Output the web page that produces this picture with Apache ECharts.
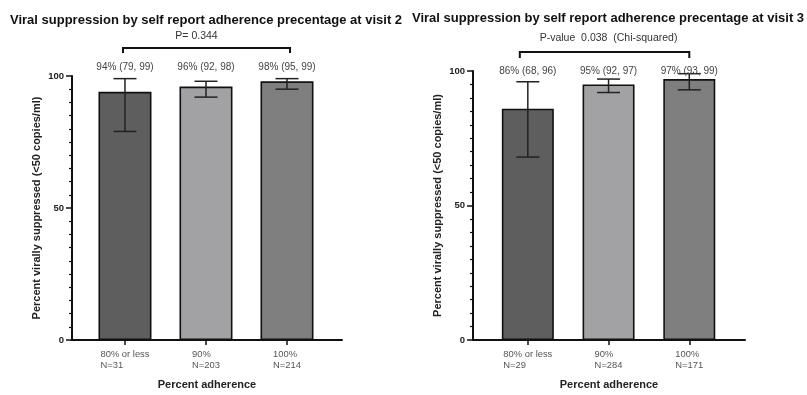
<!DOCTYPE html>
<html><head><meta charset="utf-8">
<script src="https://cdn.jsdelivr.net/npm/echarts@6/dist/echarts.min.js"></script>
<style>html,body{margin:0;padding:0;background:#fff}#c{width:807px;height:395px}</style>
</head><body><div id="c"></div>
<script>
// ---- data ----
const categories = ['80% or less', '90%', '100%'];
const v2Title = 'Viral suppression by self report adherence precentage at visit 2';
const v2N = [31, 203, 214];
const v2Pct = [94, 96, 98];
const v2Lo = [79, 92, 95];
const v2Hi = [99, 98, 99];
const v2P = 'P= 0.344';
const v3Title = 'Viral suppression by self report adherence precentage at visit 3';
const v3N = [29, 284, 171];
const v3Pct = [86, 95, 97];
const v3Lo = [68, 92, 93];
const v3Hi = [96, 97, 99];
const v3P = 'P-value  0.038  (Chi-squared)';
const yTickValues = [0, 50, 100];
const yAxisName = 'Percent virally suppressed (<50 copies/ml)';
const xAxisName = 'Percent adherence';
const barColors = ['#5e5e5e', '#a2a2a5', '#7f7f7f'];

// ---- build ----
const FONT = 'Liberation Sans, Arial, sans-serif';
const chart = echarts.init(document.getElementById('c'));
const idx = categories.map((_, i) => i);

function ciText(p, lo, hi) { return p.map((v, i) => v + '% (' + lo[i] + ', ' + hi[i] + ')'); }

function xAxisFor(gi, n, min, max) {
  return {
    type: 'value', gridIndex: gi, min: min, max: max,
    name: xAxisName, nameLocation: 'middle', nameGap: 39,
    nameTextStyle: { fontFamily: FONT, fontSize: 11, fontWeight: 'bold', color: '#222' },
    axisLine: { show: true, onZero: false, lineStyle: { color: '#111', width: 2 } },
    axisTick: { show: true, customValues: idx, length: 5, lineStyle: { color: '#111', width: 1.5 } },
    axisLabel: {
      show: true, customValues: idx, margin: 9,
      formatter: v => '{a|' + categories[v] + '}\n{a|N=' + n[v] + '}',
      rich: { a: { align: 'left', fontFamily: FONT, fontSize: 9.4, color: '#555', lineHeight: 11 } }
    },
    splitLine: { show: false }
  };
}
function yAxisFor(gi) {
  return {
    type: 'value', gridIndex: gi, min: 0, max: 100, interval: 50,
    name: yAxisName, nameLocation: 'middle', nameGap: 30,
    nameTextStyle: { fontFamily: FONT, fontSize: 11, fontWeight: 'bold', color: '#222' },
    axisLine: { show: true, onZero: false, lineStyle: { color: '#111', width: 2 } },
    axisTick: { show: true, length: 6, lineStyle: { color: '#111', width: 1.5 } },
    minorTick: { show: true, splitNumber: 10, length: 3, lineStyle: { color: '#111', width: 1.2 } },
    axisLabel: { fontFamily: FONT, fontSize: 9.5, fontWeight: 'bold', color: '#222', margin: 8,
      customValues: yTickValues },
    splitLine: { show: false }
  };
}
function barSeries(gi, pct, bw) {
  return {
    type: 'bar', xAxisIndex: gi, yAxisIndex: gi, barWidth: bw,
    data: pct.map((v, i) => ({ value: [i, v], itemStyle: { color: barColors[i] } })),
    itemStyle: { borderColor: '#111', borderWidth: 1.6 }, z: 2
  };
}
function errSeries(gi, lo, hi) {
  return {
    type: 'custom', xAxisIndex: gi, yAxisIndex: gi, z: 5, clip: false,
    data: lo.map((v, i) => [i, v, hi[i]]),
    renderItem: (params, api) => {
      const x = api.value(0);
      const a = api.coord([x, api.value(1)]), b = api.coord([x, api.value(2)]);
      const cw = 11.5, st = { stroke: '#222', lineWidth: 1.5 };
      return { type: 'group', children: [
        { type: 'line', shape: { x1: a[0], y1: a[1], x2: b[0], y2: b[1] }, style: st },
        { type: 'line', shape: { x1: a[0] - cw, y1: a[1], x2: a[0] + cw, y2: a[1] }, style: st },
        { type: 'line', shape: { x1: b[0] - cw, y1: b[1], x2: b[0] + cw, y2: b[1] }, style: st }
      ] };
    }
  };
}
function ciSeries(gi, texts, dy) {
  return {
    type: 'custom', xAxisIndex: gi, yAxisIndex: gi, z: 6, clip: false,
    data: idx.map(i => [i, 100]),
    renderItem: (params, api) => {
      const p = api.coord([api.value(0), api.value(1)]);
      return { type: 'text', x: p[0], y: p[1] + dy,
        style: { text: texts[params.dataIndex], align: 'center', verticalAlign: 'middle',
          fontFamily: FONT, fontSize: 10, fill: '#444' } };
    }
  };
}
function bracketSeries(gi, text, rise, drop, dxl, dxr, textUp, textDx) {
  return {
    type: 'custom', xAxisIndex: gi, yAxisIndex: gi, z: 6, clip: false,
    data: [[0, 2, 100]],
    renderItem: (params, api) => {
      const a = api.coord([api.value(0), api.value(2)]), b = api.coord([api.value(1), api.value(2)]);
      const yH = a[1] - rise, xl = a[0] + dxl, xr = b[0] + dxr;
      return { type: 'group', children: [
        { type: 'polyline', shape: { points: [[xl, yH + drop], [xl, yH], [xr, yH], [xr, yH + drop]] },
          style: { stroke: '#111', lineWidth: 2, fill: null } },
        { type: 'text', x: (xl + xr) / 2 + textDx, y: yH - textUp,
          style: { text: text, align: 'center', verticalAlign: 'middle', fontFamily: FONT, fontSize: 10.5, fill: '#333' } }
      ] };
    }
  };
}

const option = {
  backgroundColor: '#fff',
  animation: false,
  title: [
    { text: v2Title, left: 10, top: 14, padding: 0,
      textStyle: { fontFamily: FONT, fontSize: 13, fontWeight: 'bold', color: '#111' } },
    { text: v3Title, left: 412, top: 12, padding: 0,
      textStyle: { fontFamily: FONT, fontSize: 13, fontWeight: 'bold', color: '#111' } }
  ],
  grid: [
    { left: 72, top: 76, width: 270, height: 267 },
    { left: 473, top: 71, width: 272, height: 271 }
  ],
  xAxis: [xAxisFor(0, v2N, -0.654, 2.679), xAxisFor(1, v3N, -0.679, 2.69)],
  yAxis: [yAxisFor(0), yAxisFor(1)],
  series: [
    barSeries(0, v2Pct, 53), errSeries(0, v2Lo, v2Hi), ciSeries(0, ciText(v2Pct, v2Lo, v2Hi), -9),
    bracketSeries(0, v2P, 28, 5, -2, 3, 12, -10),
    barSeries(1, v3Pct, 52), errSeries(1, v3Lo, v3Hi), ciSeries(1, ciText(v3Pct, v3Lo, v3Hi), 0),
    bracketSeries(1, v3P, 19, 6, -8, 0, 14, 4)
  ]
};
chart.setOption(option);
</script>
</body></html>
